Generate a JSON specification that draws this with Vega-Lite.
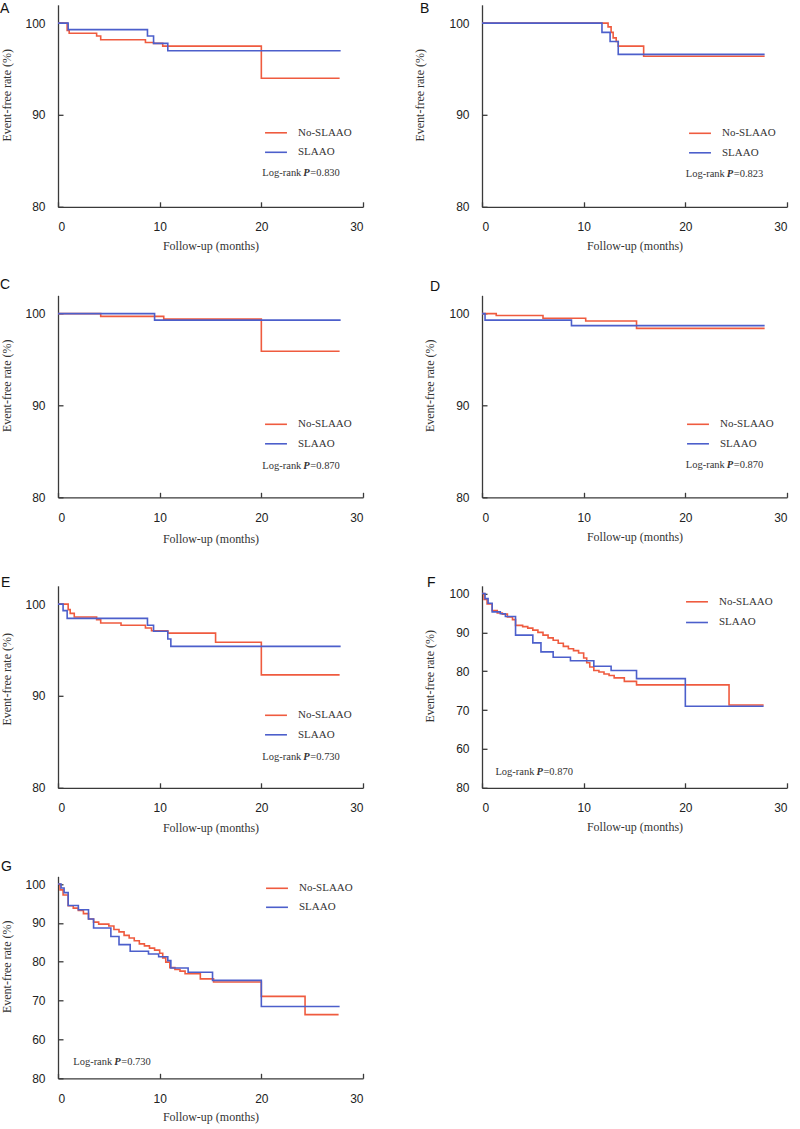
{
"$schema": "https://vega.github.io/schema/vega-lite/v6.json",
"background": "white",
"padding": {"left": 0, "top": 1.8, "right": 2, "bottom": 3},
"autosize": {"type": "pad"},
"columns": 2,
"spacing": {"row": 88.5, "column": 119},
"bounds": "flush",
"resolve": {"scale": {"x": "independent", "y": "independent", "color": "independent"}, "legend": {"color": "independent"}},
"config": {
  "view": {"stroke": null},
  "axis": {"domainColor": "#3a3a3a", "domainWidth": 1.3, "tickColor": "#3a3a3a", "tickWidth": 1.3, "tickSize": -5, "grid": false, "labelFont": "Liberation Sans", "labelFontSize": 12, "labelColor": "#222", "titleFont": "Liberation Serif", "titleFontSize": 12, "titleFontWeight": "normal", "titleColor": "#333"},
  "legend": {"orient": "none", "padding": 0, "symbolType": "stroke", "symbolSize": 480, "symbolStrokeWidth": 1.6, "labelFont": "Liberation Serif", "labelFontSize": 11, "labelColor": "#333", "labelOffset": 10, "rowPadding": 2.5},
  "title": {"font": "Liberation Sans", "fontSize": 14, "fontWeight": "normal", "anchor": "start", "frame": "group", "color": "#111"},
  "text": {"font": "Liberation Serif", "fontSize": 10.5, "align": "left", "baseline": "middle", "color": "#333"},
  "line": {"interpolate": "step-after", "strokeWidth": 1.6}
},
"datasets": {"km": [
{"p":"A","g":"No-SLAAO","t":0,"s":100},{"p":"A","g":"No-SLAAO","t":0.9,"s":99.2},{"p":"A","g":"No-SLAAO","t":1.1,"s":98.9},{"p":"A","g":"No-SLAAO","t":3.8,"s":98.6},{"p":"A","g":"No-SLAAO","t":4.2,"s":98.2},{"p":"A","g":"No-SLAAO","t":8.6,"s":97.9},{"p":"A","g":"No-SLAAO","t":9.4,"s":97.8},{"p":"A","g":"No-SLAAO","t":10.3,"s":97.5},{"p":"A","g":"No-SLAAO","t":20.0,"s":94.0},{"p":"A","g":"No-SLAAO","t":27.7,"s":94.0},
{"p":"A","g":"SLAAO","t":0,"s":100},{"p":"A","g":"SLAAO","t":1.0,"s":99.3},{"p":"A","g":"SLAAO","t":8.8,"s":98.6},{"p":"A","g":"SLAAO","t":9.4,"s":97.8},{"p":"A","g":"SLAAO","t":10.8,"s":97.0},{"p":"A","g":"SLAAO","t":27.8,"s":97.0},
{"p":"B","g":"No-SLAAO","t":0,"s":100},{"p":"B","g":"No-SLAAO","t":12.4,"s":99.6},{"p":"B","g":"No-SLAAO","t":12.7,"s":99.0},{"p":"B","g":"No-SLAAO","t":12.9,"s":98.4},{"p":"B","g":"No-SLAAO","t":13.2,"s":98.0},{"p":"B","g":"No-SLAAO","t":13.4,"s":97.5},{"p":"B","g":"No-SLAAO","t":15.9,"s":96.4},{"p":"B","g":"No-SLAAO","t":27.8,"s":96.4},
{"p":"B","g":"SLAAO","t":0,"s":100},{"p":"B","g":"SLAAO","t":11.8,"s":99.0},{"p":"B","g":"SLAAO","t":12.6,"s":98.0},{"p":"B","g":"SLAAO","t":13.4,"s":96.6},{"p":"B","g":"SLAAO","t":27.8,"s":96.6},
{"p":"C","g":"No-SLAAO","t":0,"s":100},{"p":"C","g":"No-SLAAO","t":4.2,"s":99.7},{"p":"C","g":"No-SLAAO","t":10.4,"s":99.4},{"p":"C","g":"No-SLAAO","t":20.0,"s":95.9},{"p":"C","g":"No-SLAAO","t":27.7,"s":95.9},
{"p":"C","g":"SLAAO","t":0,"s":100},{"p":"C","g":"SLAAO","t":9.5,"s":99.3},{"p":"C","g":"SLAAO","t":27.8,"s":99.3},
{"p":"D","g":"No-SLAAO","t":0,"s":100},{"p":"D","g":"No-SLAAO","t":1.4,"s":99.8},{"p":"D","g":"No-SLAAO","t":6.0,"s":99.5},{"p":"D","g":"No-SLAAO","t":10.2,"s":99.2},{"p":"D","g":"No-SLAAO","t":15.2,"s":98.4},{"p":"D","g":"No-SLAAO","t":27.8,"s":98.4},
{"p":"D","g":"SLAAO","t":0,"s":100},{"p":"D","g":"SLAAO","t":0.3,"s":99.3},{"p":"D","g":"SLAAO","t":8.8,"s":98.7},{"p":"D","g":"SLAAO","t":27.8,"s":98.7},
{"p":"E","g":"No-SLAAO","t":0,"s":100},{"p":"E","g":"No-SLAAO","t":1.0,"s":99.4},{"p":"E","g":"No-SLAAO","t":1.2,"s":99.0},{"p":"E","g":"No-SLAAO","t":1.6,"s":98.6},{"p":"E","g":"No-SLAAO","t":3.8,"s":98.3},{"p":"E","g":"No-SLAAO","t":4.2,"s":97.95},{"p":"E","g":"No-SLAAO","t":6.2,"s":97.7},{"p":"E","g":"No-SLAAO","t":8.6,"s":97.4},{"p":"E","g":"No-SLAAO","t":9.2,"s":97.1},{"p":"E","g":"No-SLAAO","t":10.8,"s":96.85},{"p":"E","g":"No-SLAAO","t":15.5,"s":95.85},{"p":"E","g":"No-SLAAO","t":20.0,"s":92.3},{"p":"E","g":"No-SLAAO","t":27.7,"s":92.3},
{"p":"E","g":"SLAAO","t":0,"s":100},{"p":"E","g":"SLAAO","t":0.5,"s":99.3},{"p":"E","g":"SLAAO","t":0.9,"s":98.45},{"p":"E","g":"SLAAO","t":8.8,"s":97.7},{"p":"E","g":"SLAAO","t":9.4,"s":97.05},{"p":"E","g":"SLAAO","t":10.8,"s":96.2},{"p":"E","g":"SLAAO","t":11.1,"s":95.4},{"p":"E","g":"SLAAO","t":27.8,"s":95.4},
{"p":"F","g":"No-SLAAO","t":0,"s":100},{"p":"F","g":"No-SLAAO","t":0.2,"s":98.5},{"p":"F","g":"No-SLAAO","t":0.5,"s":97.3},{"p":"F","g":"No-SLAAO","t":1.0,"s":95.6},{"p":"F","g":"No-SLAAO","t":1.5,"s":95.0},{"p":"F","g":"No-SLAAO","t":2.0,"s":94.7},{"p":"F","g":"No-SLAAO","t":2.5,"s":94.0},{"p":"F","g":"No-SLAAO","t":3.0,"s":93.3},{"p":"F","g":"No-SLAAO","t":3.3,"s":91.8},{"p":"F","g":"No-SLAAO","t":4.0,"s":91.5},{"p":"F","g":"No-SLAAO","t":4.5,"s":91.1},{"p":"F","g":"No-SLAAO","t":5.0,"s":90.6},{"p":"F","g":"No-SLAAO","t":5.5,"s":90.0},{"p":"F","g":"No-SLAAO","t":6.0,"s":89.3},{"p":"F","g":"No-SLAAO","t":6.5,"s":88.6},{"p":"F","g":"No-SLAAO","t":7.0,"s":88.0},{"p":"F","g":"No-SLAAO","t":7.5,"s":87.2},{"p":"F","g":"No-SLAAO","t":8.0,"s":86.4},{"p":"F","g":"No-SLAAO","t":8.5,"s":85.8},{"p":"F","g":"No-SLAAO","t":9.0,"s":85.3},{"p":"F","g":"No-SLAAO","t":9.5,"s":84.7},{"p":"F","g":"No-SLAAO","t":10.0,"s":83.4},{"p":"F","g":"No-SLAAO","t":10.3,"s":82.2},{"p":"F","g":"No-SLAAO","t":10.6,"s":81.1},{"p":"F","g":"No-SLAAO","t":11.0,"s":80.2},{"p":"F","g":"No-SLAAO","t":11.5,"s":79.8},{"p":"F","g":"No-SLAAO","t":12.0,"s":79.3},{"p":"F","g":"No-SLAAO","t":12.5,"s":78.9},{"p":"F","g":"No-SLAAO","t":13.0,"s":78.3},{"p":"F","g":"No-SLAAO","t":14.0,"s":77.4},{"p":"F","g":"No-SLAAO","t":15.2,"s":76.5},{"p":"F","g":"No-SLAAO","t":24.3,"s":71.3},{"p":"F","g":"No-SLAAO","t":27.7,"s":71.3},
{"p":"F","g":"SLAAO","t":0,"s":100},{"p":"F","g":"SLAAO","t":0.3,"s":98.7},{"p":"F","g":"SLAAO","t":0.6,"s":97.5},{"p":"F","g":"SLAAO","t":1.0,"s":95.3},{"p":"F","g":"SLAAO","t":1.8,"s":94.8},{"p":"F","g":"SLAAO","t":2.3,"s":94.1},{"p":"F","g":"SLAAO","t":3.3,"s":89.3},{"p":"F","g":"SLAAO","t":5.0,"s":87.3},{"p":"F","g":"SLAAO","t":5.8,"s":85.0},{"p":"F","g":"SLAAO","t":7.0,"s":83.6},{"p":"F","g":"SLAAO","t":8.7,"s":82.7},{"p":"F","g":"SLAAO","t":11.0,"s":81.3},{"p":"F","g":"SLAAO","t":12.7,"s":80.2},{"p":"F","g":"SLAAO","t":15.2,"s":78.1},{"p":"F","g":"SLAAO","t":20.0,"s":71.0},{"p":"F","g":"SLAAO","t":27.7,"s":71.0},
{"p":"G","g":"No-SLAAO","t":0,"s":100},{"p":"G","g":"No-SLAAO","t":0.2,"s":98.5},{"p":"G","g":"No-SLAAO","t":0.5,"s":97.2},{"p":"G","g":"No-SLAAO","t":1.0,"s":94.4},{"p":"G","g":"No-SLAAO","t":1.5,"s":93.8},{"p":"G","g":"No-SLAAO","t":2.0,"s":93.2},{"p":"G","g":"No-SLAAO","t":2.5,"s":92.4},{"p":"G","g":"No-SLAAO","t":3.0,"s":91.0},{"p":"G","g":"No-SLAAO","t":3.5,"s":90.2},{"p":"G","g":"No-SLAAO","t":4.0,"s":89.7},{"p":"G","g":"No-SLAAO","t":5.0,"s":89.2},{"p":"G","g":"No-SLAAO","t":5.5,"s":88.3},{"p":"G","g":"No-SLAAO","t":6.0,"s":87.7},{"p":"G","g":"No-SLAAO","t":6.5,"s":86.8},{"p":"G","g":"No-SLAAO","t":7.0,"s":86.1},{"p":"G","g":"No-SLAAO","t":7.5,"s":85.4},{"p":"G","g":"No-SLAAO","t":8.0,"s":84.6},{"p":"G","g":"No-SLAAO","t":8.5,"s":84.1},{"p":"G","g":"No-SLAAO","t":9.0,"s":83.5},{"p":"G","g":"No-SLAAO","t":9.5,"s":83.0},{"p":"G","g":"No-SLAAO","t":10.0,"s":82.2},{"p":"G","g":"No-SLAAO","t":10.3,"s":81.0},{"p":"G","g":"No-SLAAO","t":10.6,"s":79.9},{"p":"G","g":"No-SLAAO","t":11.0,"s":78.5},{"p":"G","g":"No-SLAAO","t":11.5,"s":78.0},{"p":"G","g":"No-SLAAO","t":12.0,"s":77.6},{"p":"G","g":"No-SLAAO","t":12.5,"s":76.9},{"p":"G","g":"No-SLAAO","t":14.0,"s":75.6},{"p":"G","g":"No-SLAAO","t":15.3,"s":74.8},{"p":"G","g":"No-SLAAO","t":20.0,"s":71.1},{"p":"G","g":"No-SLAAO","t":24.3,"s":66.4},{"p":"G","g":"No-SLAAO","t":27.6,"s":66.4},
{"p":"G","g":"SLAAO","t":0,"s":100},{"p":"G","g":"SLAAO","t":0.3,"s":99.0},{"p":"G","g":"SLAAO","t":0.6,"s":97.8},{"p":"G","g":"SLAAO","t":1.0,"s":94.5},{"p":"G","g":"SLAAO","t":2.0,"s":93.4},{"p":"G","g":"SLAAO","t":3.0,"s":91.0},{"p":"G","g":"SLAAO","t":3.5,"s":88.7},{"p":"G","g":"SLAAO","t":5.2,"s":86.5},{"p":"G","g":"SLAAO","t":6.0,"s":84.4},{"p":"G","g":"SLAAO","t":7.1,"s":82.7},{"p":"G","g":"SLAAO","t":8.9,"s":82.0},{"p":"G","g":"SLAAO","t":9.9,"s":81.3},{"p":"G","g":"SLAAO","t":10.8,"s":80.3},{"p":"G","g":"SLAAO","t":11.1,"s":78.4},{"p":"G","g":"SLAAO","t":12.8,"s":77.3},{"p":"G","g":"SLAAO","t":15.2,"s":75.2},{"p":"G","g":"SLAAO","t":20.0,"s":68.5},{"p":"G","g":"SLAAO","t":27.7,"s":68.5}
]},
"concat": [
{"width": 305, "height": 202, "title": {"text": "A", "dx": -58, "offset": -11.5},
 "layer": [
  {"data": {"name": "km"}, "transform": [{"filter": "datum.p === 'A'"}], "mark": "line",
   "encoding": {
    "x": {"field": "t", "type": "quantitative", "scale": {"domain": [0, 30], "nice": false}, "axis": {"values": [0, 10, 20, 30], "title": "Follow-up (months)", "titleY": 39, "titleBaseline": "middle", "labelPadding": 20}},
    "y": {"field": "s", "type": "quantitative", "scale": {"domain": [80, 102], "nice": false, "zero": false}, "axis": {"values": [80, 90, 100], "title": "Event-free rate (%)", "titleX": -52, "titleY": 90, "titleBaseline": "middle", "labelPadding": 18}},
    "color": {"field": "g", "type": "nominal", "scale": {"domain": ["No-SLAAO", "SLAAO"], "range": ["#EF5B3F", "#4C5FCB"]}, "legend": {"title": null, "legendX": 206, "legendY": 116}}}},
  {"data": {"values": [{}]}, "mark": {"type": "text"}, "encoding": {"x": {"datum": 20.1}, "y": {"datum": 83.7}, "text": {"value": "Log-rank"}}},
  {"data": {"values": [{}]}, "mark": {"type": "text", "dx": 41, "fontStyle": "italic", "fontWeight": "bold"}, "encoding": {"x": {"datum": 20.1}, "y": {"datum": 83.7}, "text": {"value": "P"}}},
  {"data": {"values": [{}]}, "mark": {"type": "text", "dx": 48}, "encoding": {"x": {"datum": 20.1}, "y": {"datum": 83.7}, "text": {"value": "=0.830"}}}
 ]},
{"width": 305, "height": 202, "title": {"text": "B", "dx": -62, "offset": -11.5},
 "layer": [
  {"data": {"name": "km"}, "transform": [{"filter": "datum.p === 'B'"}], "mark": "line",
   "encoding": {
    "x": {"field": "t", "type": "quantitative", "scale": {"domain": [0, 30], "nice": false}, "axis": {"values": [0, 10, 20, 30], "title": "Follow-up (months)", "titleY": 39, "titleBaseline": "middle", "labelPadding": 20}},
    "y": {"field": "s", "type": "quantitative", "scale": {"domain": [80, 102], "nice": false, "zero": false}, "axis": {"values": [80, 90, 100], "title": "Event-free rate (%)", "titleX": -62, "titleY": 90, "titleBaseline": "middle", "labelPadding": 18}},
    "color": {"field": "g", "type": "nominal", "scale": {"domain": ["No-SLAAO", "SLAAO"], "range": ["#EF5B3F", "#4C5FCB"]}, "legend": {"title": null, "legendX": 206, "legendY": 116.5}}}},
  {"data": {"values": [{}]}, "mark": {"type": "text"}, "encoding": {"x": {"datum": 20.05}, "y": {"datum": 83.55}, "text": {"value": "Log-rank"}}},
  {"data": {"values": [{}]}, "mark": {"type": "text", "dx": 41, "fontStyle": "italic", "fontWeight": "bold"}, "encoding": {"x": {"datum": 20.05}, "y": {"datum": 83.55}, "text": {"value": "P"}}},
  {"data": {"values": [{}]}, "mark": {"type": "text", "dx": 48}, "encoding": {"x": {"datum": 20.05}, "y": {"datum": 83.55}, "text": {"value": "=0.823"}}}
 ]},
{"width": 305, "height": 202, "title": {"text": "C", "dx": -58, "offset": 3.7},
 "layer": [
  {"data": {"name": "km"}, "transform": [{"filter": "datum.p === 'C'"}], "mark": "line",
   "encoding": {
    "x": {"field": "t", "type": "quantitative", "scale": {"domain": [0, 30], "nice": false}, "axis": {"values": [0, 10, 20, 30], "title": "Follow-up (months)", "titleY": 41, "titleBaseline": "middle", "labelPadding": 20}},
    "y": {"field": "s", "type": "quantitative", "scale": {"domain": [80, 102], "nice": false, "zero": false}, "axis": {"values": [80, 90, 100], "title": "Event-free rate (%)", "titleX": -52, "titleY": 90, "titleBaseline": "middle", "labelPadding": 18}},
    "color": {"field": "g", "type": "nominal", "scale": {"domain": ["No-SLAAO", "SLAAO"], "range": ["#EF5B3F", "#4C5FCB"]}, "legend": {"title": null, "legendX": 206, "legendY": 117}}}},
  {"data": {"values": [{}]}, "mark": {"type": "text"}, "encoding": {"x": {"datum": 20.1}, "y": {"datum": 83.45}, "text": {"value": "Log-rank"}}},
  {"data": {"values": [{}]}, "mark": {"type": "text", "dx": 41, "fontStyle": "italic", "fontWeight": "bold"}, "encoding": {"x": {"datum": 20.1}, "y": {"datum": 83.45}, "text": {"value": "P"}}},
  {"data": {"values": [{}]}, "mark": {"type": "text", "dx": 48}, "encoding": {"x": {"datum": 20.1}, "y": {"datum": 83.45}, "text": {"value": "=0.870"}}}
 ]},
{"width": 305, "height": 202, "title": {"text": "D", "dx": -52, "offset": 1.2},
 "layer": [
  {"data": {"name": "km"}, "transform": [{"filter": "datum.p === 'D'"}], "mark": "line",
   "encoding": {
    "x": {"field": "t", "type": "quantitative", "scale": {"domain": [0, 30], "nice": false}, "axis": {"values": [0, 10, 20, 30], "title": "Follow-up (months)", "titleY": 39, "titleBaseline": "middle", "labelPadding": 20}},
    "y": {"field": "s", "type": "quantitative", "scale": {"domain": [80, 102], "nice": false, "zero": false}, "axis": {"values": [80, 90, 100], "title": "Event-free rate (%)", "titleX": -52, "titleY": 90, "titleBaseline": "middle", "labelPadding": 18}},
    "color": {"field": "g", "type": "nominal", "scale": {"domain": ["No-SLAAO", "SLAAO"], "range": ["#EF5B3F", "#4C5FCB"]}, "legend": {"title": null, "legendX": 204, "legendY": 117}}}},
  {"data": {"values": [{}]}, "mark": {"type": "text"}, "encoding": {"x": {"datum": 20.05}, "y": {"datum": 83.55}, "text": {"value": "Log-rank"}}},
  {"data": {"values": [{}]}, "mark": {"type": "text", "dx": 41, "fontStyle": "italic", "fontWeight": "bold"}, "encoding": {"x": {"datum": 20.05}, "y": {"datum": 83.55}, "text": {"value": "P"}}},
  {"data": {"values": [{}]}, "mark": {"type": "text", "dx": 48}, "encoding": {"x": {"datum": 20.05}, "y": {"datum": 83.55}, "text": {"value": "=0.870"}}}
 ]},
{"width": 305, "height": 202, "title": {"text": "E", "dx": -57, "offset": -3.8},
 "layer": [
  {"data": {"name": "km"}, "transform": [{"filter": "datum.p === 'E'"}], "mark": "line",
   "encoding": {
    "x": {"field": "t", "type": "quantitative", "scale": {"domain": [0, 30], "nice": false}, "axis": {"values": [0, 10, 20, 30], "title": "Follow-up (months)", "titleY": 40, "titleBaseline": "middle", "labelPadding": 20}},
    "y": {"field": "s", "type": "quantitative", "scale": {"domain": [80, 102], "nice": false, "zero": false}, "axis": {"values": [80, 90, 100], "title": "Event-free rate (%)", "titleX": -52, "titleY": 93, "titleBaseline": "middle", "labelPadding": 18}},
    "color": {"field": "g", "type": "nominal", "scale": {"domain": ["No-SLAAO", "SLAAO"], "range": ["#EF5B3F", "#4C5FCB"]}, "legend": {"title": null, "legendX": 206, "legendY": 117.5}}}},
  {"data": {"values": [{}]}, "mark": {"type": "text"}, "encoding": {"x": {"datum": 20.1}, "y": {"datum": 83.37}, "text": {"value": "Log-rank"}}},
  {"data": {"values": [{}]}, "mark": {"type": "text", "dx": 41, "fontStyle": "italic", "fontWeight": "bold"}, "encoding": {"x": {"datum": 20.1}, "y": {"datum": 83.37}, "text": {"value": "P"}}},
  {"data": {"values": [{}]}, "mark": {"type": "text", "dx": 48}, "encoding": {"x": {"datum": 20.1}, "y": {"datum": 83.37}, "text": {"value": "=0.730"}}}
 ]},
{"width": 305, "height": 202, "title": {"text": "F", "dx": -55, "offset": -3.8},
 "layer": [
  {"data": {"name": "km"}, "transform": [{"filter": "datum.p === 'F'"}], "mark": "line",
   "encoding": {
    "x": {"field": "t", "type": "quantitative", "scale": {"domain": [0, 30], "nice": false}, "axis": {"values": [0, 10, 20, 30], "title": "Follow-up (months)", "titleY": 39, "titleBaseline": "middle", "labelPadding": 20}},
    "y": {"field": "s", "type": "quantitative", "scale": {"domain": [50, 102], "nice": false, "zero": false}, "axis": {"values": [50, 60, 70, 80, 90, 100], "labelExpr": "datum.value === 50 ? '80' : datum.label", "title": "Event-free rate (%)", "titleX": -52, "titleY": 90, "titleBaseline": "middle", "labelPadding": 18}},
    "color": {"field": "g", "type": "nominal", "scale": {"domain": ["No-SLAAO", "SLAAO"], "range": ["#EF5B3F", "#4C5FCB"]}, "legend": {"title": null, "legendX": 203, "legendY": 4, "rowPadding": 3.7}}}},
  {"data": {"values": [{}]}, "mark": {"type": "text"}, "encoding": {"x": {"datum": 1.32}, "y": {"datum": 54.1}, "text": {"value": "Log-rank"}}},
  {"data": {"values": [{}]}, "mark": {"type": "text", "dx": 41, "fontStyle": "italic", "fontWeight": "bold"}, "encoding": {"x": {"datum": 1.32}, "y": {"datum": 54.1}, "text": {"value": "P"}}},
  {"data": {"values": [{}]}, "mark": {"type": "text", "dx": 48}, "encoding": {"x": {"datum": 1.32}, "y": {"datum": 54.1}, "text": {"value": "=0.870"}}}
 ]},
{"width": 305, "height": 202, "title": {"text": "G", "dx": -57, "offset": 2.2},
 "layer": [
  {"data": {"name": "km"}, "transform": [{"filter": "datum.p === 'G'"}], "mark": "line",
   "encoding": {
    "x": {"field": "t", "type": "quantitative", "scale": {"domain": [0, 30], "nice": false}, "axis": {"values": [0, 10, 20, 30], "title": "Follow-up (months)", "titleY": 38, "titleBaseline": "middle", "labelPadding": 20}},
    "y": {"field": "s", "type": "quantitative", "scale": {"domain": [50, 102], "nice": false, "zero": false}, "axis": {"values": [50, 60, 70, 80, 90, 100], "labelExpr": "datum.value === 50 ? '80' : datum.label", "title": "Event-free rate (%)", "titleX": -52, "titleY": 90, "titleBaseline": "middle", "labelPadding": 18}},
    "color": {"field": "g", "type": "nominal", "scale": {"domain": ["No-SLAAO", "SLAAO"], "range": ["#EF5B3F", "#4C5FCB"]}, "legend": {"title": null, "legendX": 207, "legendY": 0, "rowPadding": 2}}}},
  {"data": {"values": [{}]}, "mark": {"type": "text"}, "encoding": {"x": {"datum": 1.5}, "y": {"datum": 54.1}, "text": {"value": "Log-rank"}}},
  {"data": {"values": [{}]}, "mark": {"type": "text", "dx": 41, "fontStyle": "italic", "fontWeight": "bold"}, "encoding": {"x": {"datum": 1.5}, "y": {"datum": 54.1}, "text": {"value": "P"}}},
  {"data": {"values": [{}]}, "mark": {"type": "text", "dx": 48}, "encoding": {"x": {"datum": 1.5}, "y": {"datum": 54.1}, "text": {"value": "=0.730"}}}
 ]}
]
}
